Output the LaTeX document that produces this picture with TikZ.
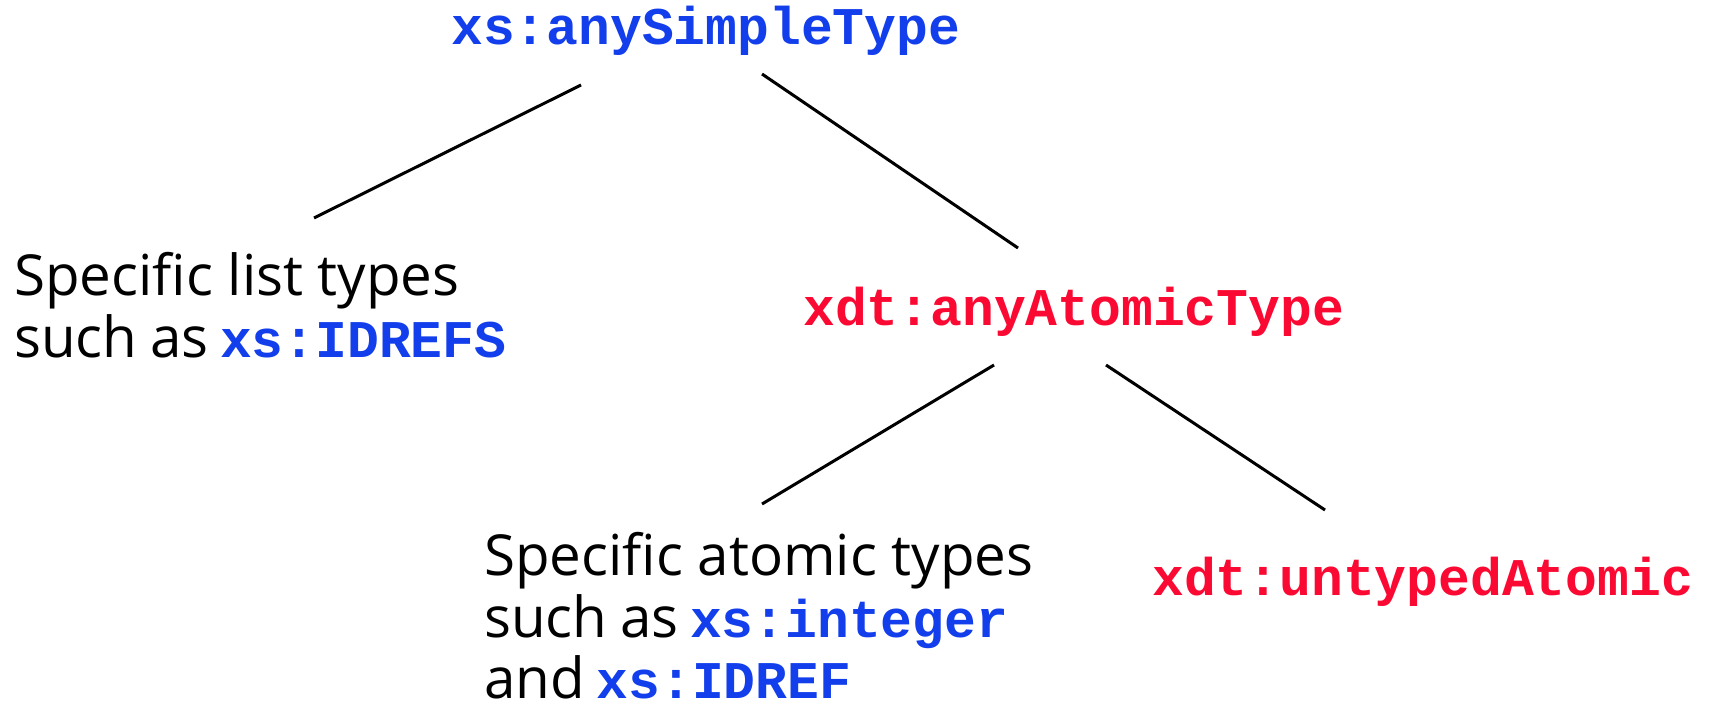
\documentclass[tikz,border=0pt]{standalone}
\usepackage{fontspec}
\setmainfont{Open Sans}
\newfontfamily\codefont{Liberation Mono}[BoldFont={Liberation Mono Bold}]
\definecolor{codeblue}{RGB}{18,62,235}
\definecolor{codered}{RGB}{250,10,50}
\newcommand{\bcode}[1]{{\codefont\bfseries\fontsize{53}{62}\selectfont\color{codeblue}#1}}
\newcommand{\rcode}[1]{{\codefont\bfseries\fontsize{53}{62}\selectfont\color{codered}#1}}
\begin{document}
\begin{tikzpicture}[x=1pt,y=-1pt,
  lbl/.style={inner sep=0pt,anchor=base west,font=\fontsize{53}{62}\selectfont},
  txt/.style={inner sep=0pt,anchor=base west,font=\fontsize{56.5}{62}\selectfont},
  edge/.style={line width=3pt,black}]
\useasboundingbox (0,0) rectangle (1712,704);
\node[lbl] (top) at (451,44) {\bcode{xs:anySimpleType}};
\node[txt] (list1) at (14,295) {Specific list types};
\node[txt] (list2) at (14,357) {such\hspace{-2pt} as\hspace{-3pt} \bcode{xs:IDREFS}};
\node[lbl] (atomic) at (803,325) {\rcode{xdt:anyAtomicType}};
\node[txt] (spec1) at (484,575) {Specific atomic types};
\node[txt] (spec2) at (484,637) {such\hspace{-2pt} as\hspace{-3pt} \bcode{xs:integer}};
\node[txt,text depth=0pt] (spec3) at (484,698) {and\hspace{-3pt} \bcode{xs:IDREF}};
\node[lbl] (untyped) at (1152,595) {\rcode{xdt:untypedAtomic}};
\coordinate (a1) at (581,85);  \coordinate (b1) at (314,218);
\coordinate (a2) at (762,74);  \coordinate (b2) at (1018,248);
\coordinate (a3) at (994,365); \coordinate (b3) at (762,504);
\coordinate (a4) at (1106,365);\coordinate (b4) at (1325,510);
\draw[edge] (a1) -- (b1);
\draw[edge] (a2) -- (b2);
\draw[edge] (a3) -- (b3);
\draw[edge] (a4) -- (b4);
\end{tikzpicture}
\end{document}
